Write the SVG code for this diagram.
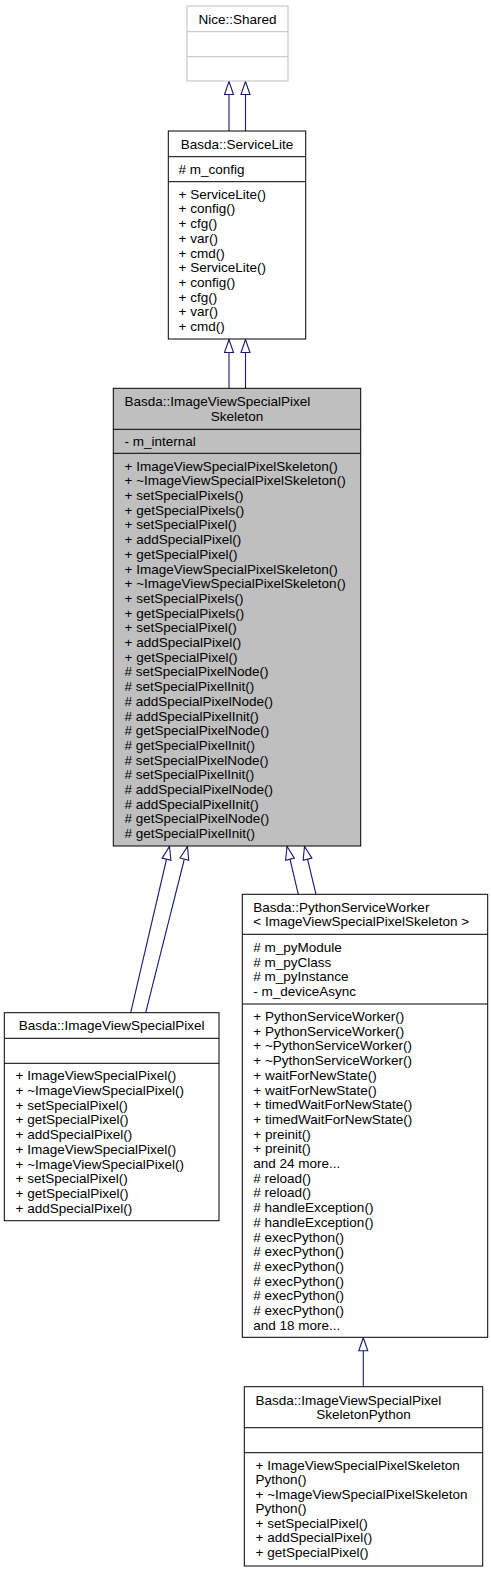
<svg xmlns="http://www.w3.org/2000/svg" width="491" height="1572" viewBox="0 0 491 1572">
<style>
text{font-family:"Liberation Sans",Arial,Helvetica,sans-serif;font-size:13.5px;fill:#000}
.box{fill:#fff;stroke:#000;stroke-width:1}
.gbox{fill:#fff;stroke:#bfbfbf;stroke-width:1}
.cur{fill:#bfbfbf;stroke:#000;stroke-width:1}
.div{stroke:#000;stroke-width:1}
.gdiv{stroke:#bfbfbf;stroke-width:1}
.mid{text-anchor:middle}
.edge{fill:none;stroke:#191970;stroke-width:1.1;marker-end:url(#tri)}
</style>
<defs>
<marker id="tri" markerUnits="userSpaceOnUse" markerWidth="16" markerHeight="12" refX="14" refY="5.5" orient="auto">
<path d="M1,1 L14,5.5 L1,10 z" fill="#fff" stroke="#191970" stroke-width="1.1"/>
</marker>
</defs>
<rect width="491" height="1572" fill="#fff"/>

<g id="connectors">
<path class="edge" d="M229,131 L229,81.5"/>
<path class="edge" d="M245.5,131 L245.5,81.5"/>
<path class="edge" d="M229,388.3 L229,339.5"/>
<path class="edge" d="M245.5,388.3 L245.5,339.5"/>
<path class="edge" d="M130.7,1012.7 L169.5,846.5"/>
<path class="edge" d="M145.7,1012.7 L187.5,846.5"/>
<path class="edge" d="M298.3,894.3 L287,846.5"/>
<path class="edge" d="M316,894.3 L304.5,846.5"/>
<path class="edge" d="M363.3,1386.7 L363.3,1337.8"/>
</g>

<g id="nice-shared">
<rect class="gbox" x="187" y="6" width="101" height="75"/>
<line class="gdiv" x1="187" y1="31.7" x2="288" y2="31.7"/>
<line class="gdiv" x1="187" y1="56.7" x2="288" y2="56.7"/>
<text class="mid" x="237.5" y="23.5">Nice::Shared</text>
</g>

<g id="service-lite">
<rect class="box" x="168.3" y="131" width="137.4" height="208"/>
<line class="div" x1="168.3" y1="156.7" x2="305.7" y2="156.7"/>
<line class="div" x1="168.3" y1="181.7" x2="305.7" y2="181.7"/>
<text class="mid" x="237" y="148.5">Basda::ServiceLite</text>
<text x="178.5" y="173.9"># m_config</text>
<text x="178.5" y="198.7">+ ServiceLite()<tspan x="178.5" dy="14.7">+ config()</tspan><tspan x="178.5" dy="14.7">+ cfg()</tspan><tspan x="178.5" dy="14.7">+ var()</tspan><tspan x="178.5" dy="14.7">+ cmd()</tspan><tspan x="178.5" dy="14.7">+ ServiceLite()</tspan><tspan x="178.5" dy="14.7">+ config()</tspan><tspan x="178.5" dy="14.7">+ cfg()</tspan><tspan x="178.5" dy="14.7">+ var()</tspan><tspan x="178.5" dy="14.7">+ cmd()</tspan></text>
</g>

<g id="skeleton">
<rect class="cur" x="113.3" y="388.3" width="247.4" height="457.7"/>
<line class="div" x1="113.3" y1="429.3" x2="360.7" y2="429.3"/>
<line class="div" x1="113.3" y1="453.3" x2="360.7" y2="453.3"/>
<text x="124.5" y="406.2">Basda::ImageViewSpecialPixel</text>
<text class="mid" x="237" y="420.9">Skeleton</text>
<text x="124.5" y="446">- m_internal</text>
<text x="124.5" y="470.6">+ ImageViewSpecialPixelSkeleton()<tspan x="124.5" dy="14.7">+ ~ImageViewSpecialPixelSkeleton()</tspan><tspan x="124.5" dy="14.7">+ setSpecialPixels()</tspan><tspan x="124.5" dy="14.7">+ getSpecialPixels()</tspan><tspan x="124.5" dy="14.7">+ setSpecialPixel()</tspan><tspan x="124.5" dy="14.7">+ addSpecialPixel()</tspan><tspan x="124.5" dy="14.7">+ getSpecialPixel()</tspan><tspan x="124.5" dy="14.7">+ ImageViewSpecialPixelSkeleton()</tspan><tspan x="124.5" dy="14.7">+ ~ImageViewSpecialPixelSkeleton()</tspan><tspan x="124.5" dy="14.7">+ setSpecialPixels()</tspan><tspan x="124.5" dy="14.7">+ getSpecialPixels()</tspan><tspan x="124.5" dy="14.7">+ setSpecialPixel()</tspan><tspan x="124.5" dy="14.7">+ addSpecialPixel()</tspan><tspan x="124.5" dy="14.7">+ getSpecialPixel()</tspan><tspan x="124.5" dy="14.7"># setSpecialPixelNode()</tspan><tspan x="124.5" dy="14.7"># setSpecialPixelInit()</tspan><tspan x="124.5" dy="14.7"># addSpecialPixelNode()</tspan><tspan x="124.5" dy="14.7"># addSpecialPixelInit()</tspan><tspan x="124.5" dy="14.7"># getSpecialPixelNode()</tspan><tspan x="124.5" dy="14.7"># getSpecialPixelInit()</tspan><tspan x="124.5" dy="14.7"># setSpecialPixelNode()</tspan><tspan x="124.5" dy="14.7"># setSpecialPixelInit()</tspan><tspan x="124.5" dy="14.7"># addSpecialPixelNode()</tspan><tspan x="124.5" dy="14.7"># addSpecialPixelInit()</tspan><tspan x="124.5" dy="14.7"># getSpecialPixelNode()</tspan><tspan x="124.5" dy="14.7"># getSpecialPixelInit()</tspan></text>
</g>

<g id="image-view-special-pixel">
<rect class="box" x="4.3" y="1012.7" width="214.7" height="208"/>
<line class="div" x1="4.3" y1="1038.3" x2="219" y2="1038.3"/>
<line class="div" x1="4.3" y1="1063.3" x2="219" y2="1063.3"/>
<text class="mid" x="111.6" y="1030.2">Basda::ImageViewSpecialPixel</text>
<text x="15.5" y="1080.3">+ ImageViewSpecialPixel()<tspan x="15.5" dy="14.7">+ ~ImageViewSpecialPixel()</tspan><tspan x="15.5" dy="14.7">+ setSpecialPixel()</tspan><tspan x="15.5" dy="14.7">+ getSpecialPixel()</tspan><tspan x="15.5" dy="14.7">+ addSpecialPixel()</tspan><tspan x="15.5" dy="14.7">+ ImageViewSpecialPixel()</tspan><tspan x="15.5" dy="14.7">+ ~ImageViewSpecialPixel()</tspan><tspan x="15.5" dy="14.7">+ setSpecialPixel()</tspan><tspan x="15.5" dy="14.7">+ getSpecialPixel()</tspan><tspan x="15.5" dy="14.7">+ addSpecialPixel()</tspan></text>
</g>

<g id="python-service-worker">
<rect class="box" x="242.3" y="894.3" width="245.4" height="443"/>
<line class="div" x1="242.3" y1="934.3" x2="487.7" y2="934.3"/>
<line class="div" x1="242.3" y1="1004" x2="487.7" y2="1004"/>
<text x="253.3" y="911.7">Basda::PythonServiceWorker</text>
<text x="253.3" y="926.4">&lt; ImageViewSpecialPixelSkeleton &gt;</text>
<text x="253.3" y="951.8"># m_pyModule<tspan x="253.3" dy="14.7"># m_pyClass</tspan><tspan x="253.3" dy="14.7"># m_pyInstance</tspan><tspan x="253.3" dy="14.7">- m_deviceAsync</tspan></text>
<text x="253.3" y="1021">+ PythonServiceWorker()<tspan x="253.3" dy="14.7">+ PythonServiceWorker()</tspan><tspan x="253.3" dy="14.7">+ ~PythonServiceWorker()</tspan><tspan x="253.3" dy="14.7">+ ~PythonServiceWorker()</tspan><tspan x="253.3" dy="14.7">+ waitForNewState()</tspan><tspan x="253.3" dy="14.7">+ waitForNewState()</tspan><tspan x="253.3" dy="14.7">+ timedWaitForNewState()</tspan><tspan x="253.3" dy="14.7">+ timedWaitForNewState()</tspan><tspan x="253.3" dy="14.7">+ preinit()</tspan><tspan x="253.3" dy="14.7">+ preinit()</tspan><tspan x="253.3" dy="14.7">and 24 more...</tspan><tspan x="253.3" dy="14.7"># reload()</tspan><tspan x="253.3" dy="14.7"># reload()</tspan><tspan x="253.3" dy="14.7"># handleException()</tspan><tspan x="253.3" dy="14.7"># handleException()</tspan><tspan x="253.3" dy="14.7"># execPython()</tspan><tspan x="253.3" dy="14.7"># execPython()</tspan><tspan x="253.3" dy="14.7"># execPython()</tspan><tspan x="253.3" dy="14.7"># execPython()</tspan><tspan x="253.3" dy="14.7"># execPython()</tspan><tspan x="253.3" dy="14.7"># execPython()</tspan><tspan x="253.3" dy="14.7">and 18 more...</tspan></text>
</g>

<g id="skeleton-python">
<rect class="box" x="244.3" y="1386.7" width="238.4" height="179.3"/>
<line class="div" x1="244.3" y1="1427.7" x2="482.7" y2="1427.7"/>
<line class="div" x1="244.3" y1="1452.7" x2="482.7" y2="1452.7"/>
<text x="255.5" y="1404.6">Basda::ImageViewSpecialPixel</text>
<text class="mid" x="363.5" y="1419.3">SkeletonPython</text>
<text x="255.5" y="1469.9">+ ImageViewSpecialPixelSkeleton<tspan x="255.5" dy="14.5">Python()</tspan><tspan x="255.5" dy="14.5">+ ~ImageViewSpecialPixelSkeleton</tspan><tspan x="255.5" dy="14.5">Python()</tspan><tspan x="255.5" dy="14.5">+ setSpecialPixel()</tspan><tspan x="255.5" dy="14.5">+ addSpecialPixel()</tspan><tspan x="255.5" dy="14.5">+ getSpecialPixel()</tspan></text>
</g>
</svg>
